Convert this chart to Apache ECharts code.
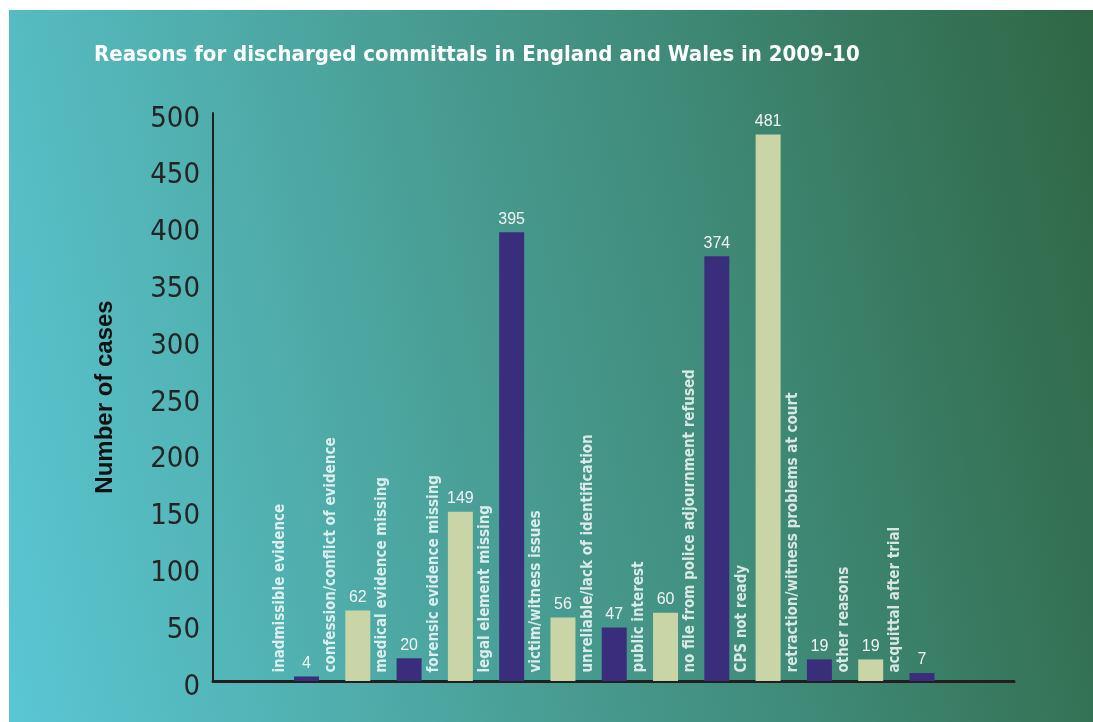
<!DOCTYPE html>
<html>
<head>
<meta charset="utf-8">
<script src="https://cdn.jsdelivr.net/npm/echarts@6/dist/echarts.min.js"></script>
<style>
  html, body { margin: 0; padding: 0; background: #ffffff; }
  #panel {
    position: absolute; left: 9px; top: 10px; width: 1084px; height: 712px;
    background: linear-gradient(78deg, #5ac6d4 0%, #52b3b4 22%, #489c92 45%, #3f8a78 65%, #367559 85%, #2f6745 100%);
  }
  #chart { position: absolute; left: 0; top: 0; width: 1093px; height: 722px; }
</style>
</head>
<body>
<div id="panel"></div>
<div id="chart"></div>
<script>
const titleText = 'Reasons for discharged committals in England and Wales in 2009-10';
const yAxisTitle = 'Number of cases';
const categories = [
  'inadmissible evidence',
  'confession/conflict of evidence',
  'medical evidence missing',
  'forensic evidence missing',
  'legal element missing',
  'victim/witness issues',
  'unreliable/lack of identification',
  'public interest',
  'no file from police adjournment refused',
  'CPS not ready',
  'retraction/witness problems at court',
  'other reasons',
  'acquittal after trial'
];
const values = [4, 62, 20, 149, 395, 56, 47, 60, 374, 481, 19, 19, 7];
const yTicks = [0, 50, 100, 150, 200, 250, 300, 350, 400, 450, 500];

const NAVY = '#3a2e7c';
const PALE = '#c9d4a7';
const cond = '"DejaVu Sans Condensed", "Liberation Sans Narrow", "DejaVu Sans", sans-serif';

const chart = echarts.init(document.getElementById('chart'), null, { renderer: 'canvas' });
chart.setOption({
  backgroundColor: 'transparent',
  animation: false,
  title: {
    text: titleText,
    left: 89, top: 39,
    textStyle: { color: '#ffffff', fontFamily: cond, fontWeight: 'bold', fontSize: 22 }
  },
  grid: { left: 213, top: 113, width: 801, height: 568 },
  xAxis: {
    type: 'value',
    min: -1.823, max: 13.794,
    axisLine: { show: true, onZero: false, lineStyle: { color: '#231f20', width: 3 } },
    axisTick: { show: false },
    axisLabel: { show: false },
    splitLine: { show: false }
  },
  yAxis: {
    type: 'value',
    min: yTicks[0], max: yTicks[yTicks.length - 1], interval: 50,
    name: yAxisTitle,
    nameLocation: 'middle',
    nameGap: 96,
    nameRotate: 90,
    nameTextStyle: { color: '#111111', fontFamily: '"Liberation Sans", Arial, sans-serif', fontWeight: 'bold', fontSize: 24 },
    axisLine: { show: true, onZero: false, lineStyle: { color: '#231f20', width: 2 } },
    axisTick: { show: false },
    splitLine: { show: false },
    axisLabel: {
      color: '#262324', fontFamily: cond, fontSize: 29, margin: 13,
      verticalAlign: 'top', lineHeight: 12
    }
  },
  series: [
    {
      type: 'bar',
      barWidth: 25,
      data: values.map((v, i) => ({ value: [i, v], itemStyle: { color: i % 2 === 0 ? NAVY : PALE } })),
      label: {
        show: true, position: 'top', distance: 5,
        color: '#f4f4f4', fontFamily: '"Liberation Sans", Arial, sans-serif', fontSize: 16,
        formatter: p => p.value[1]
      }
    },
    {
      type: 'scatter',
      symbolSize: 1,
      itemStyle: { color: 'transparent' },
      silent: true,
      data: categories.map((c, i) => ({ value: [i, 0], name: c })),
      label: {
        show: true,
        position: [-26, -8],
        rotate: 90,
        align: 'left',
        verticalAlign: 'middle',
        color: '#ffffff',
        fontFamily: cond, fontWeight: 'bold', fontSize: 15,
        formatter: p => p.name
      }
    }
  ]
});
</script>
</body>
</html>
